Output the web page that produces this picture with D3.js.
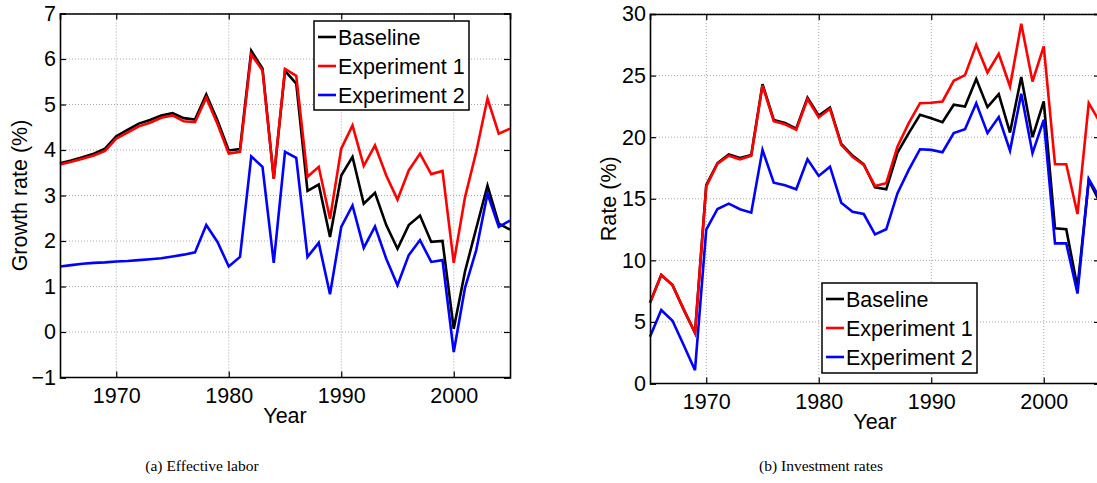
<!DOCTYPE html>
<html><head><meta charset="utf-8">
<script src="https://cdn.jsdelivr.net/npm/d3@7"></script>
<style>
body{margin:0;background:#fff;}
svg text{font-family:"Liberation Sans",Arial,sans-serif;fill:#000;}
</style></head>
<body><svg id="c" width="1097" height="483"></svg>
<script>
const years = d3.range(1965, 2006);
const seriesNames = ["Baseline", "Experiment 1", "Experiment 2"];
const seriesColors = ["#000000", "#ff0000", "#0000ff"];

const laborBaseline = [3.71,3.77,3.84,3.92,4.03,4.30,4.44,4.58,4.66,4.76,4.81,4.70,4.67,5.22,4.65,3.99,4.02,6.18,5.79,3.37,5.74,5.46,3.10,3.24,2.09,3.44,3.85,2.82,3.06,2.35,1.83,2.35,2.56,1.98,2.00,0.07,1.33,2.28,3.22,2.38,2.25];
const laborExp1 = [3.68,3.74,3.81,3.88,3.98,4.25,4.38,4.52,4.60,4.71,4.76,4.63,4.61,5.15,4.57,3.92,3.96,6.10,5.75,3.37,5.78,5.63,3.41,3.63,2.49,4.03,4.54,3.65,4.10,3.44,2.91,3.55,3.92,3.47,3.54,1.52,2.96,3.96,5.13,4.36,4.47];
const laborExp2 = [1.44,1.47,1.50,1.52,1.53,1.55,1.56,1.58,1.60,1.62,1.66,1.70,1.75,2.35,1.98,1.44,1.65,3.86,3.63,1.52,3.96,3.83,1.65,1.96,0.83,2.31,2.78,1.85,2.32,1.61,1.03,1.69,2.02,1.54,1.58,-0.44,0.97,1.80,3.04,2.31,2.45];

const investBaseline = [6.55,8.81,7.99,6.0,4.12,16.1,17.9,18.6,18.3,18.56,24.3,21.4,21.15,20.7,23.2,21.75,22.4,19.45,18.5,17.8,15.93,15.77,18.75,20.33,21.81,21.54,21.22,22.63,22.49,24.72,22.44,23.5,20.37,24.88,20.0,22.9,12.6,12.52,7.8,16.5,14.7];
const investExp1 = [6.55,8.81,7.99,6.0,4.12,16.0,17.85,18.5,18.2,18.5,24.2,21.3,21.05,20.6,23.1,21.6,22.3,19.37,18.4,17.75,16.04,16.26,19.24,21.14,22.76,22.8,22.9,24.58,25.04,27.5,25.25,26.77,24.11,29.2,24.52,27.37,17.8,17.8,13.76,22.76,21.2];
const investExp2 = [3.79,5.96,5.09,3.1,1.08,12.5,14.17,14.6,14.15,13.87,18.97,16.3,16.1,15.77,18.2,16.85,17.6,14.68,13.95,13.76,12.11,12.52,15.45,17.34,19.02,18.97,18.78,20.33,20.65,22.76,20.33,21.63,18.91,23.52,18.7,21.4,11.38,11.38,7.3,16.6,15.0];

const xTicks = [1970, 1980, 1990, 2000];
const laborTicks = [-1,0,1,2,3,4,5,6,7];
const investTicks = [0,5,10,15,20,25,30];
const captions = ["(a) Effective labor", "(b) Investment rates"];

const svg = d3.select("#c");
const FS = 21.5;

function panel(cfg){
  const {left,right,top,bottom,yDomain,yTicks,series,ylabel,ylabelX,legend,caption,capX} = cfg;
  const x = d3.scaleLinear().domain([1965,2005]).range([left,right]);
  const y = d3.scaleLinear().domain(yDomain).range([bottom,top]);
  const g = svg.append("g");
  g.append("g").selectAll("line").data(xTicks).join("line")
    .attr("x1",d=>x(d)).attr("x2",d=>x(d)).attr("y1",top).attr("y2",bottom)
    .attr("stroke","#a8a8a8").attr("stroke-width",1).attr("stroke-dasharray","1,2");
  g.append("g").selectAll("line").data(yTicks).join("line")
    .attr("x1",left).attr("x2",right).attr("y1",d=>y(d)).attr("y2",d=>y(d))
    .attr("stroke","#a8a8a8").attr("stroke-width",1).attr("stroke-dasharray","1,2");
  const line = d3.line().x((d,i)=>x(years[i])).y(d=>y(d));
  series.forEach((s,i)=>{
    g.append("path").datum(s).attr("d",line).attr("fill","none")
      .attr("stroke",seriesColors[i]).attr("stroke-width",2.6).attr("stroke-linejoin","miter");
  });
  const ax = g.append("g").attr("transform",`translate(0,${bottom})`)
    .call(d3.axisBottom(x).tickValues(xTicks).tickFormat(d3.format("d")).tickSize(-6).tickPadding(10));
  const axT = g.append("g").attr("transform",`translate(0,${top})`)
    .call(d3.axisTop(x).tickValues(xTicks).tickFormat("").tickSize(-6));
  const ay = g.append("g").attr("transform",`translate(${left},0)`)
    .call(d3.axisLeft(y).tickValues(yTicks).tickFormat(d=>d<0?"\u2212"+Math.abs(d):d).tickSize(-6).tickPadding(4));
  const ayR = g.append("g").attr("transform",`translate(${right},0)`)
    .call(d3.axisRight(y).tickValues(yTicks).tickFormat("").tickSize(-6));
  [ax,axT,ay,ayR].forEach(a=>{
    a.select(".domain").attr("stroke","#000").attr("stroke-width",1.6);
    a.selectAll(".tick line").attr("stroke","#000").attr("stroke-width",1.2);
    a.selectAll("text").attr("font-size",FS).attr("font-family","Liberation Sans, Arial, sans-serif").attr("fill","#000");
  });
  ax.selectAll("text").attr("dy","0.72em");
  ax.selectAll(".domain").attr("d",`M${left},0H${right}`);
  svg.append("text").attr("x",(left+right)/2).attr("y",bottom+45).attr("text-anchor","middle")
    .attr("font-size",FS).text("Year");
  svg.append("text").attr("transform",`translate(${ylabelX},${(top+bottom)/2}) rotate(-90)`)
    .attr("text-anchor","middle").attr("font-size",FS).text(ylabel);
  const lg = svg.append("g");
  lg.append("rect").attr("x",legend.x).attr("y",legend.y).attr("width",legend.w).attr("height",legend.h)
    .attr("fill","#fff").attr("stroke","#000").attr("stroke-width",1.5);
  seriesNames.forEach((n,i)=>{
    const cy = legend.y + 16 + i*29;
    lg.append("line").attr("x1",legend.x+4).attr("x2",legend.x+22).attr("y1",cy).attr("y2",cy)
      .attr("stroke",seriesColors[i]).attr("stroke-width",2.6);
    lg.append("text").attr("x",legend.x+24).attr("y",cy).attr("dy","0.36em").attr("font-size",FS).text(n);
  });
  svg.append("text").attr("x",capX).attr("y",471).attr("text-anchor","middle").attr("font-size",15.5)
    .style("font-family","Liberation Serif, 'DejaVu Serif', serif").text(caption);
}

panel({left:60,right:510,top:13.5,bottom:377.5,yDomain:[-1,7],yTicks:laborTicks,
  series:[laborBaseline,laborExp1,laborExp2],ylabel:"Growth rate (%)",ylabelX:27,
  legend:{x:314,y:21,w:155,h:89},caption:captions[0],capX:202});
panel({left:650,right:1100,top:14,bottom:383.5,yDomain:[0,30],yTicks:investTicks,
  series:[investBaseline,investExp1,investExp2],ylabel:"Rate (%)",ylabelX:616,
  legend:{x:822,y:283,w:155,h:90},caption:captions[1],capX:821});
</script></body></html>
